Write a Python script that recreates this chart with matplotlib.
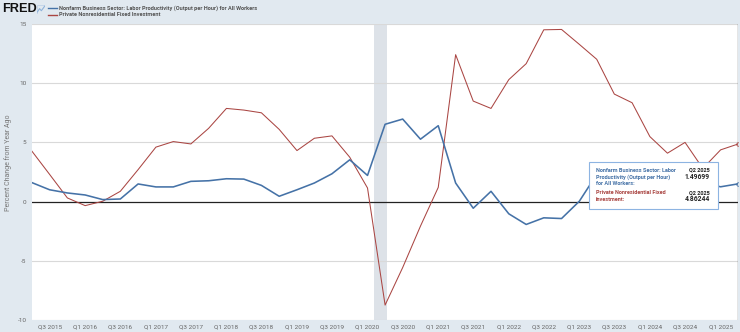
import datetime as dt
import matplotlib
matplotlib.use("Agg")
import matplotlib.pyplot as plt
from matplotlib.patches import Rectangle

# Quarterly observations, Q2 2015 .. Q2 2025 (percent change from year ago)
quarters = [dt.date(2015 + (3 + 3 * i) // 12, (3 + 3 * i) % 12 + 1, 1) for i in range(41)]

productivity = [1.60, 1.00, 0.73, 0.56, 0.17, 0.22, 1.49, 1.24, 1.24, 1.71,
                1.76, 1.93, 1.90, 1.37, 0.45, 1.00, 1.57, 2.35, 3.53, 2.21,
                6.53, 6.97, 5.27, 6.41, 1.57, -0.56, 0.87, -1.03, -1.93, -1.37,
                -1.43, 0.03, 2.30, 2.70, 2.90, 2.80, 2.30, 1.90, 1.60, 1.25,
                1.49699]

investment = [4.25, 2.30, 0.31, -0.34, 0.03, 0.87, 2.70, 4.60, 5.07, 4.87,
              6.19, 7.87, 7.73, 7.50, 6.10, 4.31, 5.35, 5.55, 3.75, 1.15,
              -8.74, -5.57, -2.07, 1.20, 12.41, 8.49, 7.87, 10.30, 11.65, 14.51,
              14.54, 13.28, 12.02, 9.08, 8.35, 5.49, 4.09, 5.00, 2.80, 4.37,
              4.86244]

series_names = ["Nonfarm Business Sector: Labor Productivity (Output per Hour) for All Workers",
                "Private Nonresidential Fixed Investment"]
y_ticks = [-10, -5, 0, 5, 10, 15]
recession = (dt.date(2020, 2, 1), dt.date(2020, 4, 10))

BLUE = "#4572a7"
RED = "#aa4643"
BG = "#e1e9f0"

plt.rcParams["font.family"] = ["Roboto", "DejaVu Sans"]

fig = plt.figure(figsize=(7.40, 3.32), dpi=100, facecolor=BG)
ax = fig.add_axes([32 / 740, 12 / 332, 706 / 740, 296 / 332])
ax.set_facecolor("white")

ax.axvspan(*recession, color="#dde2e8", zorder=0, lw=0)
for v in y_ticks:
    if v != 0:
        ax.axhline(v, color="#d9d9d9", lw=0.8, zorder=1)
ax.axhline(0, color="#222222", lw=0.9, zorder=2)

ax.plot(quarters, productivity, color=BLUE, lw=1.15, zorder=4)
ax.plot(quarters, investment, color=RED, lw=0.75, zorder=3)
ax.plot(quarters[-1], productivity[-1], "o", ms=2.5, mfc="none", mec=BLUE, mew=0.6, zorder=6)
ax.plot(quarters[-1], investment[-1], "o", ms=2.5, mfc="none", mec=RED, mew=0.6, zorder=6)
ax.axvline(quarters[-1], color="#333333", lw=0.9, zorder=5)

ax.set_xlim(quarters[0], quarters[-1])
ax.set_ylim(-10, 15)
ax.set_yticks(y_ticks)
ax.set_yticklabels([str(v) for v in y_ticks])

tick_dates = [dt.date(2015 + (6 + 6 * i) // 12, (6 + 6 * i) % 12 + 1, 1) for i in range(20)]
ax.set_xticks(tick_dates)
ax.set_xticklabels([f"Q{(d.month - 1) // 3 + 1} {d.year}" for d in tick_dates])
ax.tick_params(axis="both", length=0, labelsize=4.6, colors="#666666")
ax.tick_params(axis="x", pad=3)
ax.tick_params(axis="y", pad=4)
for s in ax.spines.values():
    s.set_visible(False)

fig.text(8 / 740, 1 - 163 / 332, "Percent Change from Year Ago", rotation=90,
         ha="center", va="center", fontsize=5, color="#777777")

# Header: logo and legend
fig.text(2 / 740, 1 - 9 / 332, "FRED", fontsize=9.2, fontweight="bold",
         family=["Liberation Sans", "DejaVu Sans"], color="#111111", va="center", ha="left")
icon = fig.add_axes([37 / 740, 1 - 14 / 332, 8 / 740, 9 / 332])
icon.plot([0, 0.3, 0.55, 1], [0.2, 0.6, 0.35, 0.9], color="#8fb3da", lw=0.8)
icon.add_patch(Rectangle((0, 0), 1, 1, fill=False, ec="#b9cfe6", lw=0.5))
icon.set_xlim(-0.05, 1.05)
icon.set_ylim(-0.05, 1.05)
icon.axis("off")

for i, (name, col) in enumerate(zip(series_names, [BLUE, RED])):
    yy = 1 - (8 + 7 * i) / 332
    fig.add_artist(plt.Line2D([48 / 740, 57 / 740], [yy, yy], color=col, lw=1.0,
                              transform=fig.transFigure))
    fig.text(59 / 740, yy, name, fontsize=4.1, fontweight="bold", color="#555555",
             va="center", ha="left")

# Hover tooltip with the latest values
tip = Rectangle((589 / 740, 1 - 209 / 332), 129 / 740, 47 / 332, transform=fig.transFigure,
                facecolor="white", edgecolor="#8db4e2", lw=0.8, zorder=10)
fig.add_artist(tip)
tx = 596 / 740
rx = 710 / 740
tooltip_rows = [
    (170, "Nonfarm Business Sector: Labor", BLUE, "Q2 2025", 4.0),
    (176.7, "Productivity (Output per Hour)", BLUE, f"{productivity[-1]:.5f}", 4.9),
    (183.3, "for All Workers:", BLUE, None, None),
    (192.7, "Private Nonresidential Fixed", RED, "Q2 2025", 4.0),
    (199.3, "Investment:", RED, f"{investment[-1]:.5f}", 4.9),
]
for y, left, col, right, rs in tooltip_rows:
    fig.text(tx, 1 - y / 332, left, fontsize=3.95, fontweight="bold", color=col,
             va="center", ha="left", zorder=11)
    if right:
        fig.text(rx, 1 - y / 332, right, fontsize=rs, fontweight="bold", color="#222222",
                 va="center", ha="right", zorder=11)

fig.savefig("out.png", dpi=100, facecolor=BG)
